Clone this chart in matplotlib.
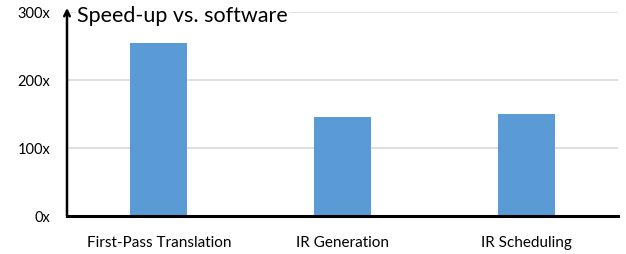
import matplotlib
matplotlib.use("Agg")
import matplotlib.pyplot as plt

plt.rcParams.update({
    "font.family": ["Lato", "DejaVu Sans"],
    "figure.facecolor": "white",
})

categories = ["First-Pass Translation", "IR Generation", "IR Scheduling"]
speedup = [254, 146, 150]
yticks = [0, 100, 200, 300]
ytick_labels = ["0x", "100x", "200x", "300x"]

BAR = "#5B9BD5"
GRID = "#D9D9D9"

fig = plt.figure(figsize=(6.26, 2.55), dpi=100)
ax = fig.add_axes([67 / 626, 1 - 217 / 255, 551 / 626, 204 / 255])

x = range(len(categories))
ax.bar(x, speedup, width=0.31, color=BAR, zorder=3)

ax.set_xlim(-0.5, len(categories) - 0.5)
ax.set_ylim(0, 300)
ax.set_yticks(yticks)
ax.set_yticklabels(ytick_labels, fontsize=10.5)
ax.set_xticks(list(x))
ax.set_xticklabels(categories, fontsize=11)
ax.tick_params(axis="x", length=0, pad=14)
ax.tick_params(axis="y", length=0, pad=12)
ax.yaxis.grid(True, color=GRID, lw=1.2, zorder=0)

for s in ["top", "right", "left"]:
    ax.spines[s].set_visible(False)
ax.spines["bottom"].set_linewidth(2.2)
ax.spines["bottom"].set_zorder(4)

# y axis drawn as an arrow
ax.annotate("", xy=(0, 1.02), xytext=(0, 0), xycoords="axes fraction",
            arrowprops=dict(arrowstyle="->", color="black", lw=1.8,
                            shrinkA=0, shrinkB=0), zorder=5)

ax.text(0.018, 0.985, "Speed-up vs. software", transform=ax.transAxes,
        fontsize=15.5, ha="left", va="center", zorder=6,
        bbox=dict(facecolor="white", edgecolor="none", pad=1))

fig.savefig("out.png", dpi=100, facecolor="white")
